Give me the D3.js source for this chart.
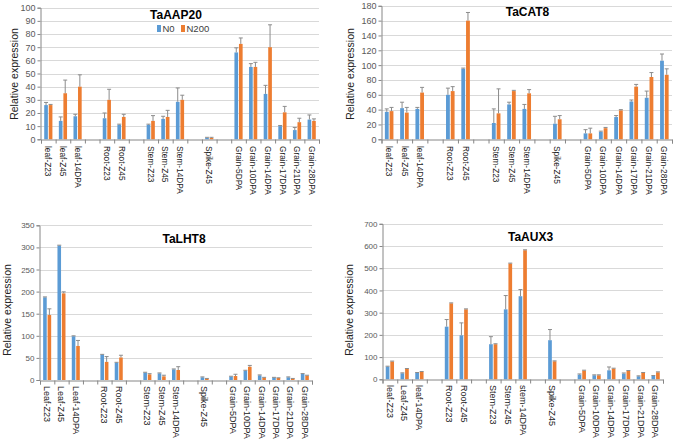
<!DOCTYPE html>
<html><head><meta charset="utf-8">
<script src="https://cdn.jsdelivr.net/npm/d3@7"></script>
<style>
body{margin:0;background:#fff;}
svg{display:block;font-family:"Liberation Sans",Arial,sans-serif;}
</style></head><body>
<svg id="c" width="675" height="439"></svg>
<script>
// ---- data ----
const catsAAP = ["leaf-Z23","leaf-Z45","leaf-14DPA","","Root-Z23","Root-Z45","","Stem-Z23","Stem-Z45","Stem-14DPA","","Spike-Z45","","Grain-5DPA","Grain-10DPA","Grain-14DPA","Grain-17DPA","Grain-21DPA","Grain-28DPA"];
const catsCAT = catsAAP;
const catsLHT = ["Leaf-Z23","Leaf-Z45","Leaf-14DPA","","Root-Z23","Root-Z45","","Stem-Z23","Stem-Z45","Stem-14DPA","","Spike-Z45","","Grain-5DPA","Grain-10DPA","Grain-14DPA","Grain-17DPA","Grain-21DPA","Grain-28DPA"];
const catsAUX = ["leaf-Z23","Leaf-Z45","leaf-14DPA","","Root-Z23","Root-Z45","","Stem-Z23","Stem-Z45","stem-14DPA","","Spike-Z45","","Grain-5DPA","Grain-10DPA","Grain-14DPA","Grain-17DPA","Grain-21DPA","Grain-28DPA"];

const aapN0    = [26,14,17.5,16,11,11,15.5,28.5,1,66,55,34.5,10,7,15];
const aapN0Err = [2,3,1.5,4,0.5,0.5,2,10.5,0.5,3.5,2.5,6.5,0.5,2,3.5];
const aapN200    = [26,35,40,30,17,14,17,30,1,72.5,55,70,20.5,13,14];
const aapN200Err = [0.5,10,9,8,2,4,5,3.5,0.5,4.5,3.5,17,4.5,3,1.5];

const catN0    = [37,42,41,60,95,22,47,41,21,8,10,30,51,56,106];
const catN0Err = [4,8,2,9,1,19,3,6,10,5,1,2,2,9,9];
const catN200    = [38,36,63,65,160,35,65,62,27,8,15,39,71,84,87];
const catN200Err = [5,7,7,6,11,33,1,5,5,7,1,1,3,6,8];

const lhtN0    = [187,304,99,57,39,16.5,15,24,6,7.5,21,10.5,5,6,13.5];
const lhtN0Err = [1,1,1,1,1,1,1,1,1,1,1,1,1,1,1];
const lhtN200    = [147,196,77,41,51,12.8,8.3,22.6,3,9,30,5,4.5,3,9.8];
const lhtN200Err = [14,3.5,12.5,12,5,1.5,2.5,7.5,0.5,4,3,1,0.5,0.5,1];

const auxN0    = [57,27,28.5,237,198,158,315,374,176,21,18,40.5,25.5,13.5,15];
const auxN0Err = [2,2,2,32,56,34,62,30,48,3,2,15,3,2,2];
const auxN200    = [80,46.5,33,342,315,158,521,581,81,39,18,48,37.5,28.5,31.5];
const auxN200Err = [2,2,2,2,2,2,2,2,2,2,2,2,2,2,2];

const seriesNames = ["N0","N200"];
const colors = ["#5B9BD5","#ED7D31"];

// ---- layout ----
const panels = [
  {title:"TaAAP20", cats:catsAAP, s:[aapN0,aapN200], e:[aapN0Err,aapN200Err], ymax:100, step:10,
   x0:41, x1:319, y0:139.3, y1:7.7, tx:176, ty:19, yl:14, ylc:74, tick:9, lab:8.3, labY:146, legend:true},
  {title:"TaCAT8", cats:catsCAT, s:[catN0,catN200], e:[catN0Err,catN200Err], ymax:180, step:20,
   x0:381.5, x1:672, y0:139.3, y1:5.8, tx:527.5, ty:16, yl:350, ylc:74, tick:9, lab:8.3, labY:146},
  {title:"TaLHT8", cats:catsLHT, s:[lhtN0,lhtN200], e:[lhtN0Err,lhtN200Err], ymax:350, step:50,
   x0:40, x1:312, y0:380, y1:225.3, tx:184, ty:243, yl:7, ylc:310, tick:8, lab:9, labY:386},
  {title:"TaAUX3", cats:catsAUX, s:[auxN0,auxN200], e:[auxN0Err,auxN200Err], ymax:700, step:100,
   x0:382.5, x1:663, y0:379.3, y1:223.8, tx:530.5, ty:241, yl:349, ylc:310, tick:8, lab:9, labY:385}
];

const svg = d3.select("#c");

panels.forEach(p => {
  const g = svg.append("g");
  const x = d3.scaleBand().domain(p.cats.map((c,i)=>i)).range([p.x0,p.x1]).padding(0);
  const xt = d3.scaleLinear().domain([0,p.cats.length]).range([p.x0,p.x1]);
  const y = d3.scaleLinear().domain([0,p.ymax]).range([p.y0,p.y1]);
  const yticks = d3.range(0,p.ymax+p.step/2,p.step);

  // gridlines
  g.append("g").selectAll("line").data(yticks.filter(t=>t>0)).join("line")
    .attr("x1",p.x0).attr("x2",p.x1)
    .attr("y1",d=>Math.round(y(d))+0.5).attr("y2",d=>Math.round(y(d))+0.5)
    .attr("stroke","#d9d9d9").attr("stroke-width",1);

  // y axis
  const ya = g.append("g").attr("transform",`translate(${Math.round(p.x0)-0.5},0)`)
    .call(d3.axisLeft(y).tickValues(yticks).tickSize(3).tickPadding(2));
  ya.select(".domain").attr("stroke","#868686");
  ya.selectAll(".tick line").attr("stroke","#868686");
  ya.selectAll("text").attr("fill","#595959").style("font-size",p.tick+"px").style("font-family","Liberation Sans, Arial, sans-serif");

  // bars
  const idx = p.cats.map((c,i)=>i).filter(i=>p.cats[i]!=="");
  const bw = x.bandwidth()*0.25, gap = x.bandwidth()*0.06;
  [0,1].forEach(si => {
    const vals = p.s[si], errs = p.e[si];
    const bg = g.append("g");
    const data = idx.map((ci,k)=>({ci, v:vals[k], e:errs[k]}));
    const bx = d => x(d.ci) + x.bandwidth()/2 + (si===0 ? -gap/2-bw : gap/2);
    bg.selectAll("rect").data(data).join("rect")
      .attr("x",bx).attr("width",bw)
      .attr("y",d=>y(d.v)).attr("height",d=>p.y0-y(d.v))
      .attr("fill",colors[si]);
    // error bars (plus only)
    bg.selectAll("line.eb").data(data).join("line").attr("class","eb")
      .attr("x1",d=>bx(d)+bw/2).attr("x2",d=>bx(d)+bw/2)
      .attr("y1",d=>y(d.v)).attr("y2",d=>y(d.v+d.e))
      .attr("stroke","#8c8c8c").attr("stroke-width",1);
    bg.selectAll("line.cap").data(data).join("line").attr("class","cap")
      .attr("x1",d=>bx(d)+bw/2-2).attr("x2",d=>bx(d)+bw/2+2)
      .attr("y1",d=>y(d.v+d.e)).attr("y2",d=>y(d.v+d.e))
      .attr("stroke","#8c8c8c").attr("stroke-width",1);
  });

  // x axis with tick marks between categories
  const xa = g.append("g").attr("transform",`translate(0,${Math.round(p.y0)+0.5})`)
    .call(d3.axisBottom(xt).tickValues(d3.range(0,p.cats.length+1)).tickSize(4).tickFormat(""));
  xa.select(".domain").attr("stroke","#868686");
  xa.selectAll(".tick line").attr("stroke","#868686");

  // x labels rotated
  g.append("g").selectAll("text").data(idx).join("text")
    .attr("transform",i=>`translate(${x(i)+x.bandwidth()/2},${p.labY}) rotate(90)`)
    .attr("dy","0.35em")
    .attr("text-anchor","start")
    .style("font-size",p.lab+"px").attr("fill","#222")
    .text(i=>p.cats[i]);

  // y title
  g.append("text").attr("transform",`translate(${p.yl},${p.ylc}) rotate(-90)`)
    .attr("text-anchor","middle").attr("dy","0.35em")
    .style("font-size","10.5px").attr("fill","#222").text("Relative expression");

  // title
  g.append("text").attr("x",p.tx).attr("y",p.ty).attr("text-anchor","middle")
    .style("font-size","12px").style("font-weight","bold").attr("fill","#000").text(p.title);

  if (p.legend) {
    const lg = g.append("g");
    const items = [{n:seriesNames[0],c:colors[0],x:157},{n:seriesNames[1],c:colors[1],x:181}];
    lg.selectAll("rect").data(items).join("rect")
      .attr("x",d=>d.x).attr("y",25).attr("width",4).attr("height",7).attr("fill",d=>d.c);
    lg.selectAll("text").data(items).join("text")
      .attr("x",d=>d.x+5.5).attr("y",32).style("font-size","9.5px").attr("fill","#404040").text(d=>d.n);
  }
});
</script>
</body></html>
